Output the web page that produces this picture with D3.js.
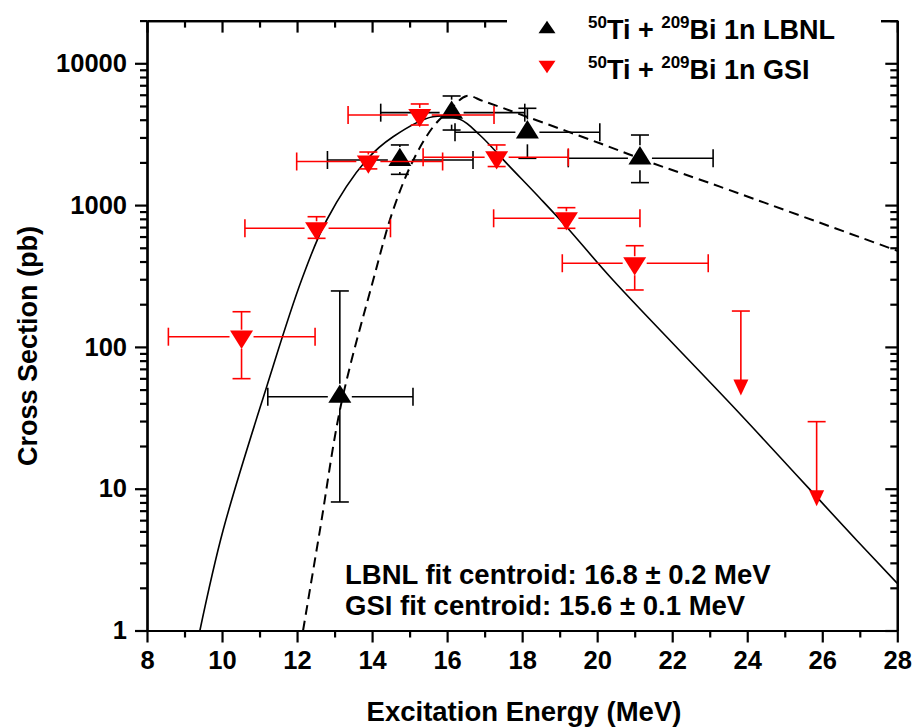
<!DOCTYPE html>
<html>
<head>
<meta charset="utf-8">
<script src="https://cdn.jsdelivr.net/npm/d3@7"></script>
<style>
  html, body { margin: 0; padding: 0; background: #fff; }
  svg { display: block; }
  text { font-family: "Liberation Sans", Arial, Helvetica, sans-serif; font-weight: bold; fill: #000; }
</style>
</head>
<body>
<svg id="chart" width="915" height="727"></svg>
<script>
// ---------------- DATA ----------------
// LBNL 1n (black, up triangles): energy, cross section, x-error bounds, y-error bounds
const lbnlE     = [13.14, 14.74, 16.12, 18.14, 21.14];
const lbnlSigma = [44.5, 2080, 4485, 3260, 2137];
const lbnlElo   = [11.22, 12.81, 14.23, 16.21, 19.23];
const lbnlEhi   = [15.09, 16.69, 18.07, 20.07, 23.09];
const lbnlSlo   = [8.06, 1648, 3383, 2137, 1440];
const lbnlShi   = [248, 2655, 5880, 4815, 3120];

// GSI 1n (red, down triangles)
const gsiE     = [10.52, 12.52, 13.90, 15.27, 17.32, 19.18, 21.00];
const gsiSigma = [118, 686, 2030, 4318, 2173, 807, 389];
const gsiElo   = [8.57, 10.61, 11.99, 13.36, 15.36, 17.24, 19.07];
const gsiEhi   = [12.48, 14.49, 15.88, 17.25, 19.23, 21.14, 22.96];
const gsiSlo   = [59.7, 583, 1800, 3670, 1870, 686, 252];
const gsiShi   = [177, 828, 2367, 5165, 2655, 959, 517];

// GSI upper limits
const limE     = [23.83, 25.85];
const limSigma = [51.7, 8.56];
const limTop   = [179, 29.7];

// Fit curves
const gsiFitE = [9.41, 10.03, 11.19, 12.12, 12.79, 13.85, 14.56, 15.62, 16.34, 16.87, 17.67, 18.47, 19.18, 20.42, 23.71, 26.91, 28.0];
const gsiFitS = [1.0, 5.11, 52.4, 296, 785, 2080, 3034, 4198, 4025, 3120, 1868, 1122, 704, 296, 35.9, 4.35, 2.15];

const lbnlFitE = [12.16, 12.61, 13.17, 14.03, 14.56, 15.10, 15.63, 16.07, 16.52, 16.96, 18.12, 20.07, 21.49, 23.27, 28.0];
const lbnlFitS = [1.0, 5.11, 38.9, 296, 922, 2080, 3572, 4688, 5878, 5420, 4200, 2729, 1972, 1349, 476];

// Axis ticks
const xMajor = [8, 10, 12, 14, 16, 18, 20, 22, 24, 26, 28];
const xMinor = [9, 11, 13, 15, 17, 19, 21, 23, 25, 27];
const yMajor = [1, 10, 100, 1000, 10000];
const yMajorLabels = ["1", "10", "100", "1000", "10000"];

const legendLabels = [
  { sup1: "50", a: "Ti + ", sup2: "209", b: "Bi 1n LBNL" },
  { sup1: "50", a: "Ti + ", sup2: "209", b: "Bi 1n GSI" }
];
const notes = ["LBNL fit centroid: 16.8 \u00B1 0.2 MeV", "GSI fit centroid: 15.6 \u00B1 0.1 MeV"];
const xTitle = "Excitation Energy (MeV)";
const yTitle = "Cross Section (pb)";

// ---------------- LAYOUT ----------------
const L = 147, R = 897.3, T = 20.6, B = 630.5;
const svg = d3.select("#chart");
const x = d3.scaleLinear().domain([8, 28]).range([L, R]);
const y = d3.scaleLog().domain([1, 20000]).range([B, T]);

const yMinor = [];
for (let d = 1; d <= 10000; d *= 10) for (let m = 2; m <= 9; m++) if (d * m <= 20000) yMinor.push(d * m);

const majorLen = 12, minorLen = 7;

function styleAxis(g) {
  g.selectAll("path.domain").attr("stroke", "#000").attr("stroke-width", 2.2);
  g.selectAll(".tick line").attr("stroke", "#000").attr("stroke-width", 2.2);
  g.selectAll(".tick text").style("font-size", "25.5px").style("font-weight", "bold")
    .style("font-family", '"Liberation Sans", Arial, sans-serif').attr("fill", "#000");
}

// bottom
svg.append("g").attr("transform", `translate(0,${B})`)
  .call(d3.axisBottom(x).tickValues(xMajor).tickSize(majorLen).tickSizeOuter(0).tickPadding(8).tickFormat(d3.format("d")))
  .call(styleAxis);
svg.append("g").attr("transform", `translate(0,${B})`)
  .call(d3.axisBottom(x).tickValues(xMinor).tickSize(minorLen).tickSizeOuter(0).tickFormat(""))
  .call(styleAxis);
// top (ticks inward)
svg.append("g").attr("transform", `translate(0,${T})`)
  .call(d3.axisBottom(x).tickValues(xMajor).tickSize(majorLen).tickSizeOuter(0).tickFormat(""))
  .call(styleAxis);
svg.append("g").attr("transform", `translate(0,${T})`)
  .call(d3.axisBottom(x).tickValues(xMinor).tickSize(minorLen).tickSizeOuter(0).tickFormat(""))
  .call(styleAxis);
// left
svg.append("g").attr("transform", `translate(${L},0)`)
  .call(d3.axisLeft(y).tickValues(yMajor).tickSize(majorLen).tickSizeOuter(0).tickPadding(8).tickFormat((d, i) => yMajorLabels[i]))
  .call(styleAxis);
svg.append("g").attr("transform", `translate(${L},0)`)
  .call(d3.axisLeft(y).tickValues(yMinor).tickSize(minorLen).tickSizeOuter(0).tickFormat(""))
  .call(styleAxis);
// right (ticks inward)
svg.append("g").attr("transform", `translate(${R},0)`)
  .call(d3.axisRight(y).tickValues(yMajor).tickSize(-majorLen).tickSizeOuter(0).tickFormat(""))
  .call(styleAxis);
svg.append("g").attr("transform", `translate(${R},0)`)
  .call(d3.axisRight(y).tickValues(yMinor).tickSize(-minorLen).tickSizeOuter(0).tickFormat(""))
  .call(styleAxis);

// Legend background (breaks the top frame)
svg.append("rect").attr("x", 507).attr("y", 0).attr("width", 374).attr("height", 88).attr("fill", "#fff");

// ---------------- CURVES ----------------
const plot = svg.append("g");
const line = d3.line().x(d => x(d[0])).y(d => y(d[1])).curve(d3.curveCatmullRom.alpha(0.5));
plot.append("path").datum(d3.zip(gsiFitE, gsiFitS)).attr("d", line)
  .attr("fill", "none").attr("stroke", "#000").attr("stroke-width", 1.6);
plot.append("path").datum(d3.zip(lbnlFitE, lbnlFitS)).attr("d", line)
  .attr("fill", "none").attr("stroke", "#000").attr("stroke-width", 2).attr("stroke-dasharray", "10,6");

// ---------------- POINTS ----------------
const cap = 9;
function drawSeries(E, S, Elo, Ehi, Slo, Shi, color, up) {
  const g = plot.append("g").attr("stroke", color).attr("stroke-width", 1.6).attr("fill", "none");
  E.forEach((e, i) => {
    const cx = x(e), cy = y(S[i]);
    const xl = x(Elo[i]), xr = x(Ehi[i]);
    const yt = y(Shi[i]), yb = y(Slo[i]);
    const gapH = 12;
    const gapUp = up ? 13 : 7, gapDn = 12;
    // horizontal bar
    g.append("line").attr("x1", xl).attr("x2", cx - gapH).attr("y1", cy).attr("y2", cy);
    g.append("line").attr("x1", cx + gapH).attr("x2", xr).attr("y1", cy).attr("y2", cy);
    g.append("line").attr("x1", xl).attr("x2", xl).attr("y1", cy - cap).attr("y2", cy + cap);
    g.append("line").attr("x1", xr).attr("x2", xr).attr("y1", cy - cap).attr("y2", cy + cap);
    // vertical bar
    if (yt < cy - gapUp) g.append("line").attr("x1", cx).attr("x2", cx).attr("y1", yt).attr("y2", cy - gapUp);
    if (yb > cy + gapDn) g.append("line").attr("x1", cx).attr("x2", cx).attr("y1", cy + gapDn).attr("y2", yb);
    g.append("line").attr("x1", cx - cap).attr("x2", cx + cap).attr("y1", yt).attr("y2", yt);
    g.append("line").attr("x1", cx - cap).attr("x2", cx + cap).attr("y1", yb).attr("y2", yb);
  });
  const w = 23, h = 18.3;
  plot.append("g").selectAll("path").data(E).join("path")
    .attr("d", (e, i) => {
      const cx = x(e), cy = y(S[i]);
      return up
        ? `M${cx},${cy - h * 2 / 3}L${cx + w / 2},${cy + h / 3}L${cx - w / 2},${cy + h / 3}Z`
        : `M${cx},${cy + h * 2 / 3}L${cx + w / 2},${cy - h / 3}L${cx - w / 2},${cy - h / 3}Z`;
    })
    .attr("fill", color);
}
drawSeries(lbnlE, lbnlSigma, lbnlElo, lbnlEhi, lbnlSlo, lbnlShi, "#000", true);
drawSeries(gsiE, gsiSigma, gsiElo, gsiEhi, gsiSlo, gsiShi, "#ff0000", false);

// upper limits
const lg = plot.append("g");
limE.forEach((e, i) => {
  const cx = x(e), cy = y(limSigma[i]), yt = y(limTop[i]);
  const w = 15, h = 16;
  lg.append("line").attr("x1", cx).attr("x2", cx).attr("y1", yt).attr("y2", cy - h / 2 + 1)
    .attr("stroke", "#ff0000").attr("stroke-width", 1.6);
  lg.append("line").attr("x1", cx - cap).attr("x2", cx + cap).attr("y1", yt).attr("y2", yt)
    .attr("stroke", "#ff0000").attr("stroke-width", 1.6);
  lg.append("path").attr("d", `M${cx - w / 2},${cy - h / 2}L${cx + w / 2},${cy - h / 2}L${cx},${cy + h / 2}Z`)
    .attr("fill", "#ff0000");
});

// ---------------- LEGEND ----------------
const legY = [39, 79];
const legColors = ["#000", "#ff0000"];
legendLabels.forEach((lab, i) => {
  const ty = legY[i] - 12, cx = 547, w = 17, h = 12.5;
  const d = i === 0
    ? `M${cx},${ty - h / 2}L${cx + w / 2},${ty + h / 2}L${cx - w / 2},${ty + h / 2}Z`
    : `M${cx},${ty + h / 2}L${cx + w / 2},${ty - h / 2}L${cx - w / 2},${ty - h / 2}Z`;
  svg.append("path").attr("d", d).attr("fill", legColors[i]);
  const t = svg.append("text").attr("x", 588).attr("y", legY[i]).style("font-size", "27px");
  t.append("tspan").text(lab.sup1).style("font-size", "17px").attr("dy", -11);
  t.append("tspan").text(lab.a).attr("dy", 11);
  t.append("tspan").text(lab.sup2).style("font-size", "17px").attr("dy", -11);
  t.append("tspan").text(lab.b).attr("dy", 11);
});

// ---------------- ANNOTATIONS ----------------
svg.append("text").attr("x", 345).attr("y", 584).style("font-size", "27.5px").text(notes[0]);
svg.append("text").attr("x", 345).attr("y", 615).style("font-size", "27.5px").text(notes[1]);

// ---------------- TITLES ----------------
svg.append("text").attr("x", 524).attr("y", 721).attr("text-anchor", "middle")
  .style("font-size", "27.5px").text(xTitle);
svg.append("text").attr("transform", `translate(37,346) rotate(-90)`).attr("text-anchor", "middle")
  .style("font-size", "27px").text(yTitle);
</script>
</body>
</html>
